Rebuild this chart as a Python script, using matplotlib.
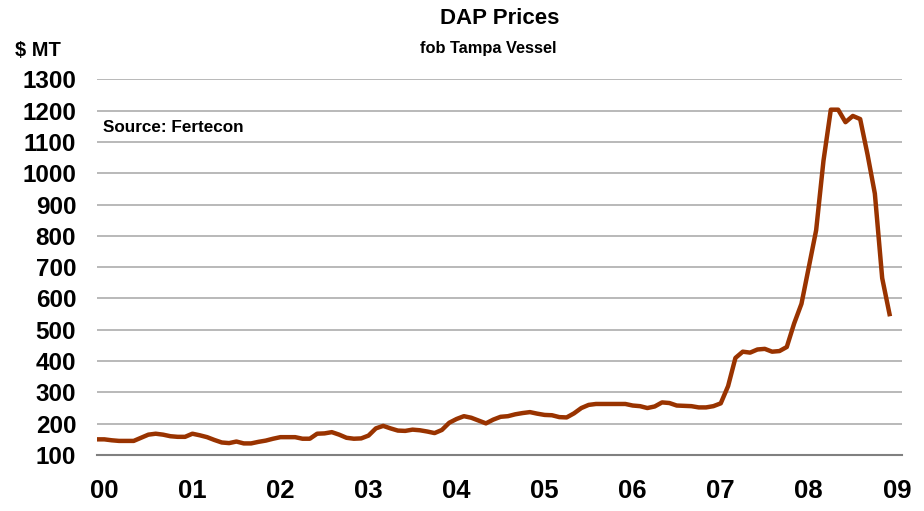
"""DAP price chart, fob Tampa vessel"""

import matplotlib.pyplot as plt

# Monthly DAP prices ($/MT), Dec 1999 - Dec 2008
prices = [
    150, 150, 147, 145, 145, 145, 155, 165, 168, 165, 160, 158,
    158, 168, 163, 157, 148, 140, 138, 143, 137, 137, 142, 146,
    152, 157, 157, 157, 152, 152, 168, 169, 173, 165, 155, 152,
    153, 162, 185, 193, 185, 178, 177, 181, 179, 175, 170, 180,
    203, 215, 224, 219, 210, 201, 213, 222, 224, 230, 234, 237,
    232, 228, 227, 221, 220, 233, 250, 260, 263, 263, 263, 263,
    263, 258, 256, 250, 255, 268, 266, 258, 257, 256, 252, 252,
    256, 265, 320, 410, 430, 427, 437, 439, 430, 432, 445, 520,
    583, 700, 818, 1040, 1203, 1203, 1163, 1183, 1173, 1060, 935, 665,
    550,
]
year_labels = ["00", "01", "02", "03", "04", "05", "06", "07", "08", "09"]
y_ticks = list(range(100, 1400, 100))

plt.rcParams["font.family"] = ["Liberation Sans", "DejaVu Sans"]
plt.rcParams["font.weight"] = "bold"

fig = plt.figure(figsize=(9.24, 5.11), dpi=100)
ax = fig.add_axes([97 / 924, 1 - 455 / 511, (902 - 97) / 924, (455 - 79.3) / 511])

months = range(len(prices))
ax.plot(months, prices, color="#993300", linewidth=3.2, solid_joinstyle="round", zorder=3)

# Set y axis details
ax.set_ylim(100, 1300)
ax.set_yticks(y_ticks)
ax.set_yticklabels([str(t) for t in y_ticks], fontsize=17.5, fontweight="bold")
ax.grid(True, axis="y", color="#a6a6a6", linewidth=1.1)

# Set x axis details: year labels at each January
ax.set_xlim(0, 109.7)
ax.set_xticks([1 + 12 * k for k in range(len(year_labels))])
ax.set_xticklabels(year_labels, fontsize=18.5, fontweight="bold")
ax.tick_params(axis="both", length=0)
ax.tick_params(axis="x", pad=17)
ax.tick_params(axis="y", pad=15)

for side in ["top", "right", "left"]:
    ax.spines[side].set_visible(False)
ax.spines["bottom"].set_color("#808080")
ax.spines["bottom"].set_linewidth(1.5)

# Titles and notes
fig.text(0.541, 0.963, "DAP Prices", ha="center", va="center", fontsize=16, fontweight="bold")
fig.text(0.528, 0.906, "fob Tampa Vessel", ha="center", va="center", fontsize=11.8, fontweight="bold")
fig.text(15 / 924, 1 - 50 / 511, "$ MT", ha="left", va="center", fontsize=14.5, fontweight="bold")
fig.text(103 / 924, 1 - 128 / 511, "Source: Fertecon", ha="left", va="center",
         fontsize=12.3, fontweight="bold")

plt.savefig("out.png", dpi=100)
